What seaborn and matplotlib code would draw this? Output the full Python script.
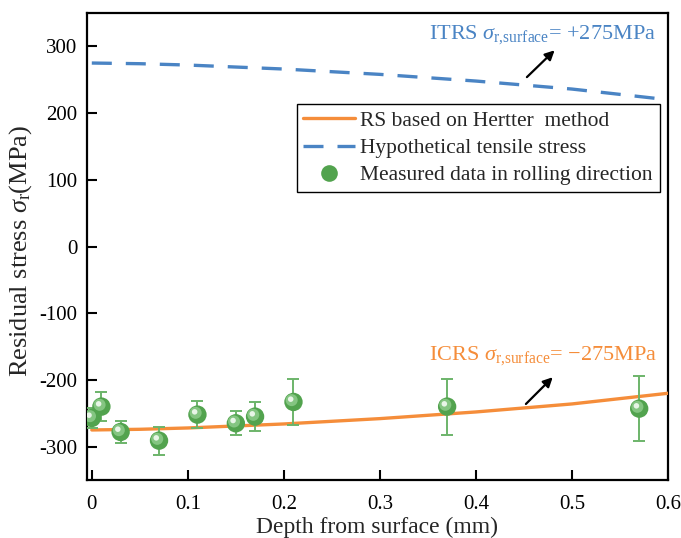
import numpy as np
import pandas as pd
import matplotlib
matplotlib.use("Agg")
import matplotlib.pyplot as plt
import matplotlib.transforms as mtransforms
from matplotlib.lines import Line2D
import seaborn as sns

# ---- data ----
curve_depth = [0.0, 0.05, 0.10, 0.15, 0.20, 0.25, 0.30, 0.35, 0.40, 0.45, 0.50, 0.55, 0.60]
rs_hertter = [-275, -274, -272, -269, -266, -262, -258, -253, -248, -242, -236, -228, -220]
tensile = [275, 274, 272, 269, 266, 262, 258, 253, 248, 242, 236, 228, 220]

meas_depth = [0.0, 0.01, 0.03, 0.07, 0.11, 0.15, 0.17, 0.21, 0.37, 0.57]
meas_stress = [-257, -240, -278, -291, -252, -265, -255, -233, -240, -243]
meas_err = [15, 22, 17, 21, 20, 18, 22, 34, 42, 49]

x_ticks = [0, 0.1, 0.2, 0.3, 0.4, 0.5, 0.6]
x_ticklabels = ["0", "0.1", "0.2", "0.3", "0.4", "0.5", "0.6"]
y_ticks = [-300, -200, -100, 0, 100, 200, 300]

label_rs = "RS based on Hertter  method"
label_tens = "Hypothetical tensile stress"
label_meas = "Measured data in rolling direction"

# ---- style ----
sns.set_theme(style="ticks")
plt.rcParams["font.family"] = ["Liberation Serif", "DejaVu Serif"]
plt.rcParams["mathtext.fontset"] = "custom"
plt.rcParams["mathtext.rm"] = "Liberation Serif"
plt.rcParams["mathtext.it"] = "Liberation Serif:italic"
plt.rcParams["axes.unicode_minus"] = False

ORANGE = "#F58D3A"
BLUE = "#4A84C4"
GREEN = "#52A34E"
GREEN_ERR = "#6DB46A"

fig = plt.figure(figsize=(6.81, 5.38), dpi=100)
ax = fig.add_axes([87 / 681, 1 - 480 / 538, (668 - 87) / 681, (480 - 13) / 538])

df_curve = pd.DataFrame({"depth": curve_depth, "rs": rs_hertter, "tens": tensile})
sns.lineplot(data=df_curve, x="depth", y="rs", ax=ax, color=ORANGE, lw=2.4, zorder=3)
sns.lineplot(data=df_curve, x="depth", y="tens", ax=ax, color=BLUE, lw=2.4,
             zorder=3)
ax.lines[-1].set_dashes((6, 4.2))

ax.errorbar(meas_depth, meas_stress, yerr=meas_err, fmt="none", ecolor=GREEN_ERR,
            elinewidth=1.4, capsize=4.5, capthick=1.4, zorder=4)
df_meas = pd.DataFrame({"depth": meas_depth, "stress": meas_stress})
sns.scatterplot(data=df_meas, x="depth", y="stress", ax=ax, s=175, color=GREEN,
                edgecolor="none", zorder=5)
# sphere highlight
off1 = mtransforms.offset_copy(ax.transData, fig=fig, x=-1.3, y=1.3, units="points")
ax.scatter(meas_depth, meas_stress, s=75, color="#84C581", edgecolor="none",
           transform=off1, zorder=6)
off2 = mtransforms.offset_copy(ax.transData, fig=fig, x=-2.0, y=2.0, units="points")
ax.scatter(meas_depth, meas_stress, s=16, color="#E8F5E7", edgecolor="none",
           transform=off2, zorder=7)

ax.set_xlim(-0.005, 0.6)
ax.set_ylim(-350, 350)
ax.set_xticks(x_ticks)
ax.set_xticklabels(x_ticklabels)
ax.set_yticks(y_ticks)
ax.tick_params(axis="both", direction="in", length=7, width=1.5, labelsize=15,
               colors="black", top=False, right=False)
ax.tick_params(axis="y", pad=7)
ax.tick_params(axis="x", pad=11)
for s in ax.spines.values():
    s.set_linewidth(1.6)
    s.set_color("black")
    s.set_visible(True)

ax.set_xlabel("Depth from surface (mm)", fontsize=17, labelpad=2)
ax.set_ylabel(r"Residual stress $\sigma_{\mathrm{r}}$(MPa)", fontsize=19)
ax.yaxis.set_label_coords(-0.092, 0.49)

# annotations
ax.text(0.587, 318, r"ITRS $\sigma_{\mathrm{r{,}surface}}$= +275MPa", color=BLUE,
        fontsize=16, ha="right", va="center")
ax.annotate("", xy=(0.484, 297), xytext=(0.451, 251),
            arrowprops=dict(arrowstyle="-|>", color="black", lw=1.6,
                            mutation_scale=14))
ax.text(0.589, -163, "ICRS $\\sigma_{\\mathrm{r{,}surface}}$= \u2212275MPa", color=ORANGE,
        fontsize=16, ha="right", va="center")
ax.annotate("", xy=(0.482, -193), xytext=(0.45, -239),
            arrowprops=dict(arrowstyle="-|>", color="black", lw=1.6,
                            mutation_scale=14))

handles = [
    Line2D([], [], color=ORANGE, lw=2.4),
    Line2D([], [], color=BLUE, lw=2.4, dashes=(6, 4.2)),
    Line2D([], [], color=GREEN, marker="o", markersize=12, lw=0, markeredgecolor="none"),
]
leg = ax.legend(handles, [label_rs, label_tens, label_meas], loc="upper right",
                bbox_to_anchor=(0.986, 0.805), borderaxespad=0, fontsize=15.5,
                frameon=True, fancybox=False, framealpha=1, edgecolor="black",
                handlelength=2.4, handletextpad=0.25, labelspacing=0.33,
                borderpad=0.32)
leg.get_frame().set_linewidth(1.0)

fig.savefig("out.png", dpi=100)
